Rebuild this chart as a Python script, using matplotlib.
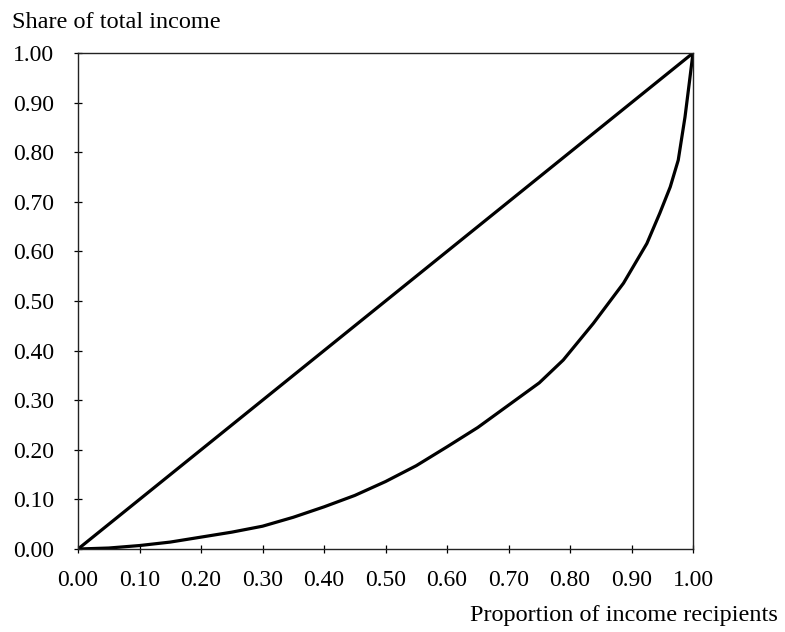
#!/usr/bin/env python3
"""Lorenz curve: share of total income vs proportion of income recipients."""

import numpy as np
import matplotlib
matplotlib.use('Agg')
import matplotlib.pyplot as plt

# line of perfect equality
equality_x = [0.0, 1.0]
equality_y = [0.0, 1.0]

# Lorenz curve
recipients = [0.0, 0.05, 0.10, 0.15, 0.20, 0.25, 0.30, 0.35, 0.40, 0.45, 0.50,
              0.55, 0.60, 0.65, 0.70, 0.75, 0.789, 0.838, 0.887, 0.925, 0.946,
              0.963, 0.976, 0.987, 0.994, 1.0]
income_share = [0.0, 0.002, 0.007, 0.014, 0.024, 0.034, 0.046, 0.064, 0.085, 0.108, 0.136,
                0.168, 0.206, 0.245, 0.290, 0.335, 0.381, 0.455, 0.536, 0.616, 0.677,
                0.730, 0.784, 0.871, 0.940, 1.0]

ticks = np.round(np.arange(0, 1.01, 0.1), 2)
tick_labels = [f'{t:.2f}' for t in ticks]

plt.rcParams['font.family'] = ['Liberation Serif', 'DejaVu Serif']

fig = plt.figure(figsize=(7.85, 6.32), dpi=100)
ax = fig.add_axes([0.0994, 0.1313, 0.7834, 0.7848])

ax.plot(equality_x, equality_y, color='black', lw=2.3, solid_capstyle='butt')
ax.plot(recipients, income_share, color='black', lw=2.3,
        solid_capstyle='butt', solid_joinstyle='round')

ax.set_xlim(0, 1)
ax.set_ylim(0, 1)
ax.set_xticks(ticks)
ax.set_xticklabels(tick_labels)
ax.set_yticks(ticks)
ax.set_yticklabels(tick_labels)
ax.tick_params(direction='inout', length=6, width=0.9, labelsize=17, color='black')
ax.tick_params(axis='y', pad=14)
ax.tick_params(axis='x', pad=12)

for s in ax.spines.values():
    s.set_linewidth(1.0)
    s.set_color('#222222')

fig.text(12 / 785, 1 - 22 / 632, 'Share of total income', fontsize=17.5,
         ha='left', va='center')
fig.text(778 / 785, 1 - 616 / 632, 'Proportion of income recipients', fontsize=17.5,
         ha='right', va='center')

fig.savefig('out.png', dpi=100)
plt.close(fig)
